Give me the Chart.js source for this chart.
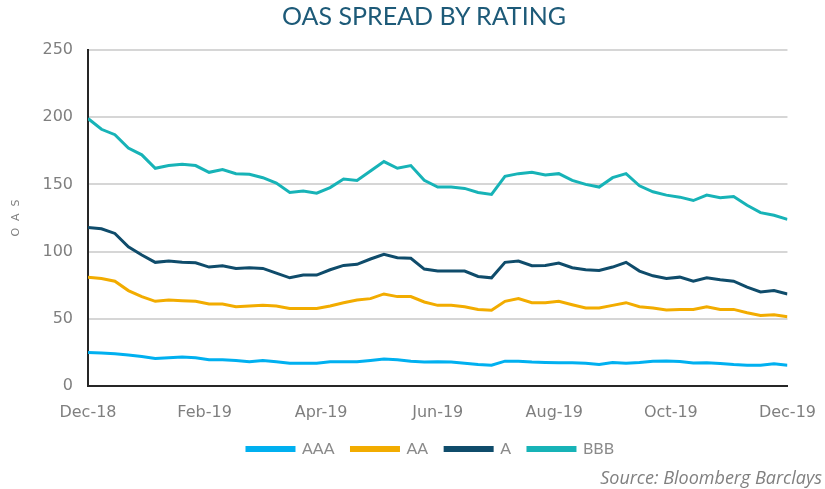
<!DOCTYPE html>
<html>
<head>
<meta charset="utf-8">
<script src="https://cdn.jsdelivr.net/npm/chart.js@4"></script>
<style>
  body { margin: 0; background: #fff; }
  #wrap { position: relative; width: 825px; height: 489px; }
  #title {
    position: absolute; top: 0px; left: 0; width: 848px; text-align: center;
    font-family: Lato, "Open Sans", sans-serif; font-size: 25px; line-height: 30px; color: #1d5a78;
  }
  #source {
    position: absolute; right: 3px; top: 465px; line-height: 24px;
    font-family: "Open Sans", Lato, sans-serif; font-style: italic; font-size: 18px; color: #808080;
  }
</style>
</head>
<body>
<div id="wrap">
  <canvas id="chart" width="825" height="489"></canvas>
  <div id="title">OAS SPREAD BY RATING</div>
  <div id="source">Source: Bloomberg Barclays</div>
</div>
<script>
// ===== Dados (leitura semanal do gráfico, Dez-18 a Dez-19) =====
const weeks = Array.from({ length: 53 }, (_, i) => i);
const tickLabels = ["Dec-18", "Feb-19", "Apr-19", "Jun-19", "Aug-19", "Oct-19", "Dec-19"];

const aaa = [25, 24.5, 24, 23, 22, 20.5, 21, 21.5, 21, 19.5, 19.5, 19, 18, 19, 18, 17, 17, 17, 18, 18,
  18, 19, 20, 19.5, 18.5, 17.8, 18, 17.8, 17, 16, 15.5, 18.5, 18.5, 17.8, 17.5, 17.3, 17.3, 17, 16, 17.5,
  17, 17.5, 18.5, 18.6, 18.3, 17.2, 17.3, 16.8, 16, 15.5, 15.4, 16.5, 15.5];
const aa = [81, 80, 78, 71, 66.5, 63, 64, 63.5, 63, 61, 61, 59, 59.5, 60, 59.5, 57.7, 57.7, 57.7, 59.5, 62,
  64, 65, 68.5, 66.5, 66.5, 62.5, 60, 60, 59, 57, 56.3, 63, 65, 62, 62, 63, 60.5, 58, 58, 60,
  62, 59, 58, 56.5, 57, 57, 59, 57, 57, 54.5, 52.5, 53, 51.5];
const a = [118, 117, 113.5, 103.5, 97.5, 92, 93, 92, 91.7, 88.5, 89.5, 87.5, 88, 87.5, 84, 80.5, 82.5, 82.5, 86.5, 89.7,
  90.5, 94.5, 98, 95.5, 95, 87, 85.5, 85.5, 85.5, 81.5, 80.5, 92, 93, 89.5, 89.7, 91.5, 88, 86.5, 86, 88.5,
  92, 85.5, 82, 80, 81, 78, 80.5, 79, 78, 73.5, 70, 71, 68.5];
const bbb = [199, 191, 187, 177, 172, 162, 164, 165, 164, 159, 161, 158, 157.5, 155, 151, 144, 145, 143.5, 147.6, 154,
  153, 160, 167, 162, 164, 153, 148, 148, 147, 144, 142.5, 156, 158, 159, 157, 158, 153, 150, 148, 155,
  158, 149, 144.5, 142, 140.5, 138, 142, 140, 141, 134.5, 129, 127, 124];

const series = [
  { label: "AAA", data: aaa, color: "#00b0f0" },
  { label: "AA", data: aa, color: "#f2ac00" },
  { label: "A", data: a, color: "#0f4c6b" },
  { label: "BBB", data: bbb, color: "#17b3b7" }
];

// centra a legenda sob a área do gráfico, como no original
const legendCenter = {
  id: "legendCenter",
  afterLayout(chart) {
    chart.legend.left = 43;
    chart.legend.right = 818;
  }
};

// ===== Gráfico =====
const ctx = document.getElementById("chart").getContext("2d");
new Chart(ctx, {
  type: "line",
  data: {
    labels: weeks,
    datasets: series.map(s => ({
      label: s.label,
      data: s.data,
      borderColor: s.color,
      backgroundColor: s.color,
      borderWidth: 3,
      pointRadius: 0,
      tension: 0
    }))
  },
  plugins: [legendCenter],
  options: {
    responsive: false,
    animation: false,
    layout: { padding: { top: 50, right: 37, bottom: 22, left: 0 } },
    plugins: {
      title: { display: false },
      tooltip: { enabled: false },
      legend: {
        position: "bottom",
        labels: {
          boxWidth: 47,
          boxHeight: 3,
          padding: 17,
          color: "#8a8a8a",
          font: { family: "Lato, 'Open Sans', sans-serif", size: 16 }
        }
      }
    },
    scales: {
      x: {
        type: "linear",
        min: 0,
        max: 52,
        afterBuildTicks: scale => {
          scale.ticks = tickLabels.map((_, i) => ({ value: i * 52 / 6 }));
        },
        afterFit: scale => { scale.height = 38; },
        grid: { display: false },
        border: { display: true, color: "#262626", width: 2 },
        ticks: {
          autoSkip: false,
          maxRotation: 0,
          padding: 9,
          color: "#7f7f7f",
          font: { family: "DejaVu Sans", size: 16 },
          callback: (v, i) => tickLabels[i]
        }
      },
      y: {
        min: 0,
        max: 250,
        afterFit: scale => { scale.width = 88; },
        grid: { color: "#d6d6d6", lineWidth: 2, drawTicks: false },
        border: { display: true, color: "#262626", width: 2 },
        ticks: {
          stepSize: 50,
          padding: 15,
          color: "#7f7f7f",
          font: { family: "DejaVu Sans", size: 16 }
        },
        title: {
          display: true,
          text: "O  A  S",
          color: "#7f7f7f",
          padding: { top: 10, bottom: 0 },
          font: { family: "DejaVu Sans", size: 11 }
        }
      }
    }
  }
});
</script>
</body>
</html>
